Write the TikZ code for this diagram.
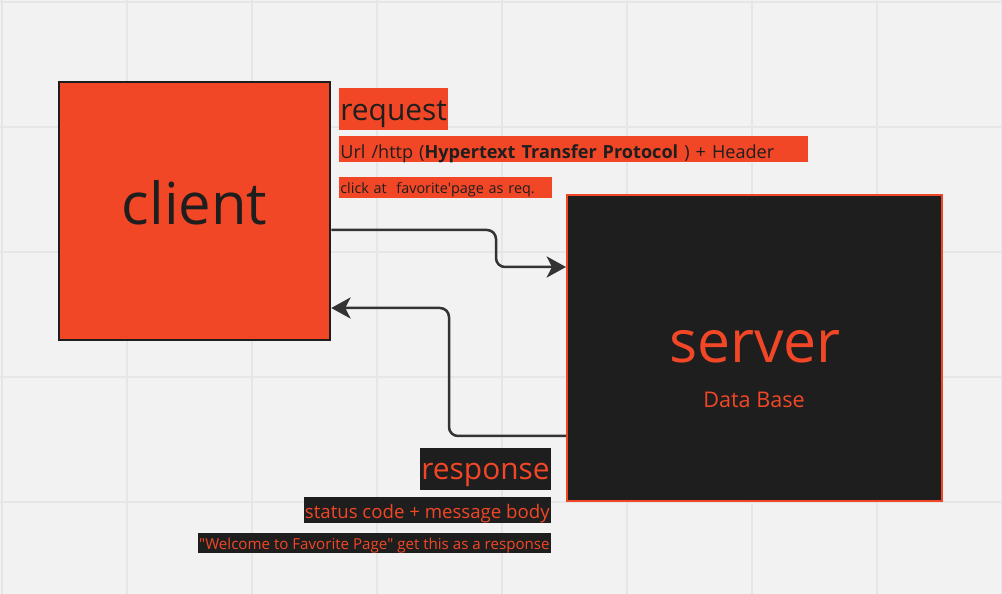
\documentclass[tikz,border=0pt]{standalone}
\usepackage{fontspec}
\setmainfont{Open Sans}
\usetikzlibrary{arrows.meta, positioning}

\definecolor{miroorange}{HTML}{F24726}
\definecolor{mirodark}{HTML}{1E1E1E}
\definecolor{canvas}{HTML}{F2F2F2}
\definecolor{gridline}{HTML}{E6E6E6}
\definecolor{wire}{HTML}{333333}

\begin{document}
\begin{tikzpicture}[x=0.02cm, y=-0.02cm]
    \tikzstyle{box} = [rectangle, inner sep=0pt, line width=2.5*0.02cm]
    \tikzstyle{redtag} = [rectangle, fill=miroorange, text=mirodark, inner xsep=1*0.02cm, inner ysep=0pt, align=left, anchor=north west]
    \tikzstyle{darktag} = [rectangle, fill=mirodark, text=miroorange, inner xsep=1*0.02cm, inner ysep=0pt, anchor=north east]
    \tikzstyle{line} = [draw=wire, line width=2.5*0.02cm, rounded corners=9*0.02cm, -{Stealth[length=11pt, width=12pt, inset=3pt]}]

    % canvas and grid
    \fill[canvas] (0,0) rectangle (1002,594);
    \useasboundingbox (0,0) rectangle (1002,594);
    \foreach \g in {2,127,...,1002} \draw[gridline, line width=0.6pt] (\g,0) -- (\g,594);
    \foreach \g in {2,127,...,594} \draw[gridline, line width=0.6pt] (0,\g) -- (1002,\g);

    % the two machines
    \node [box, fill=miroorange, draw=mirodark, minimum width=271*0.02cm, minimum height=258*0.02cm, text=mirodark, text height=48*0.02cm, text depth=20*0.02cm, font=\fontsize{33}{40}\selectfont] (client) at (194.5,211) {client};
    \node [box, fill=mirodark, draw=miroorange, line width=2*0.02cm, minimum width=375*0.02cm, minimum height=306*0.02cm] (server) at (754.5,348) {};
    \node [text=miroorange, font=\fontsize{33.5}{40}\selectfont, inner sep=0pt, anchor=base] (servername) at (755,363) {server};
    \node [text=miroorange, font=\fontsize{12.3}{15}\selectfont, inner sep=0pt, anchor=base] (database) at (754,408) {Data Base};

    % request side
    \node [redtag, text height=32*0.02cm, text depth=10*0.02cm, text width=107*0.02cm, font=\fontsize{17}{20}\selectfont] (request) at (339,88) {request};
    \node [redtag, text height=22*0.02cm, text depth=4*0.02cm, text width=467*0.02cm, font=\fontsize{10.3}{12}\selectfont] (url) at (339,136) {Url /http (\textbf{Hypertext Transfer Protocol} ) + Header};
    \node [redtag, text height=16*0.02cm, text depth=5*0.02cm, text width=211*0.02cm, font=\fontsize{8.2}{10}\selectfont] (click) at (339,177) {click at~ favorite\textquotesingle page as req.};

    % response side
    \node [darktag, text height=31*0.02cm, text depth=11*0.02cm, font=\fontsize{17}{20}\selectfont] (response) at (551,448) {response};
    \node [darktag, text height=21*0.02cm, text depth=5*0.02cm, font=\fontsize{10.6}{13}\selectfont] (status) at (551,497) {status code + message body};
    \node [darktag, text height=16*0.02cm, text depth=4*0.02cm, font=\fontsize{8.6}{11}\selectfont] (welcome) at (551,533) {\textquotedbl Welcome to Favorite Page\textquotedbl{} get this as a response};

    % connectors
    \path [line] (client.east |- 0,230) -| (496,250) |- (server.west |- 0,267);
    \path [line] (server.west |- 0,436) -| (449,370) |- (client.east |- 0,308);
\end{tikzpicture}
\end{document}
